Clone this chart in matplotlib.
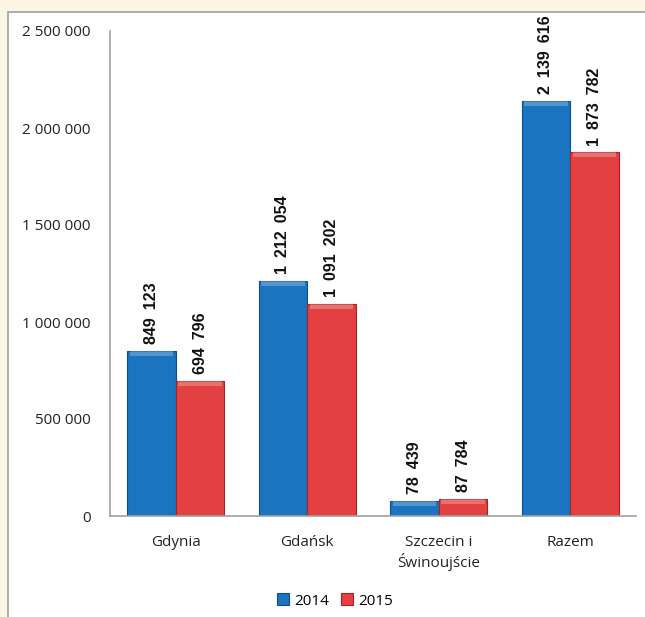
import numpy as np
import matplotlib
matplotlib.use('Agg')
import matplotlib.pyplot as plt
from matplotlib.patches import Rectangle

categories = ['Gdynia', 'Gdańsk', 'Szczecin i\nŚwinoujście', 'Razem']
years = ['2014', '2015']
values_2014 = [849123, 1212054, 78439, 2139616]
values_2015 = [694796, 1091202, 87784, 1873782]
yticks = [0, 500000, 1000000, 1500000, 2000000, 2500000]

colors = ['#1a74c0', '#e34141']
edges = ['#0b4f8c', '#a32323']


def fmt(v, sep=' '):
    return '{:,}'.format(v).replace(',', sep)


fig = plt.figure(figsize=(6.45, 6.17), dpi=100, facecolor='#fdf5e3')
fig.patches.append(Rectangle((8 / 645, -0.01), 1.0, 1 - 12 / 617 + 0.01,
                             transform=fig.transFigure, facecolor='white',
                             edgecolor='#a0a0a0', linewidth=1.2, zorder=-10))

ax = fig.add_axes([110 / 645, 1 - 516 / 617, 526 / 645, 485 / 617])
ax.set_facecolor('none')

x = np.arange(len(categories))
w = 0.37
for i, (vals, col, ec) in enumerate(zip([values_2014, values_2015], colors, edges)):
    pos = x + (i - 0.5) * w
    ax.bar(pos, vals, width=w, color=col, edgecolor=ec, linewidth=0.8, label=years[i], zorder=2)
    # lighter highlight strip near the top of each bar
    ax.bar(pos, [min(v, 25000) for v in vals], bottom=[v - min(v, 25000) for v in vals],
           width=w * 0.9, color='white', alpha=0.25, linewidth=0, zorder=3)
    for p, v in zip(pos, vals):
        ax.annotate(fmt(v, '\u2002'), (p, v), xytext=(0, 5), textcoords='offset points',
                    rotation=90, ha='center', va='bottom', fontsize=11.5,
                    fontweight='bold', family='Liberation Sans', color='#111111')

ax.set_xlim(-0.5, len(categories) - 0.5)
ax.set_ylim(0, 2500000)
ax.set_yticks(yticks)
ax.set_yticklabels([fmt(t) for t in yticks], family='Open Sans', fontsize=11, color='#222222')
ax.set_xticks(x)
ax.set_xticklabels(categories, family='Open Sans', fontsize=11, color='#222222')
ax.tick_params(axis='y', length=0, pad=14)
ax.tick_params(axis='x', length=0, pad=14)
for s in ['top', 'right']:
    ax.spines[s].set_visible(False)
for s in ['left', 'bottom']:
    ax.spines[s].set_color('#a0a0a0')
    ax.spines[s].set_linewidth(1.2)

leg = fig.legend(loc='center', bbox_to_anchor=(335 / 645, 1 - 601 / 617), ncol=2,
                 frameon=False, handlelength=0.8, handleheight=0.8, handletextpad=0.3,
                 columnspacing=0.8, prop={'family': 'Open Sans', 'size': 11})

fig.savefig('out.png', dpi=100, facecolor=fig.get_facecolor())
